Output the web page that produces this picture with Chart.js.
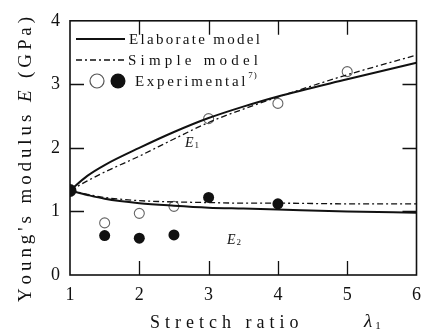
<!DOCTYPE html>
<html>
<head>
<meta charset="utf-8">
<script src="https://cdn.jsdelivr.net/npm/chart.js@4"></script>
<style>
  html, body { margin: 0; padding: 0; background: #fff; }
  #wrap { width: 430px; height: 336px; position: relative; }
</style>
</head>
<body>
<div id="wrap"><canvas id="chart"></canvas></div>
<script>
// ---- data ----
const stretch      = [1, 1.25, 1.5, 2, 2.5, 3, 3.5, 4, 5, 6];
const elaborateE1  = [1.33, 1.56, 1.73, 2.00, 2.25, 2.47, 2.65, 2.81, 3.08, 3.34];
const elaborateE2  = [1.33, 1.26, 1.20, 1.13, 1.09, 1.06, 1.045, 1.03, 1.00, 0.98];
const simpleE1     = [1.33, 1.48, 1.62, 1.87, 2.14, 2.40, 2.61, 2.80, 3.15, 3.46];
const simpleE2     = [1.33, 1.27, 1.22, 1.17, 1.15, 1.14, 1.13, 1.13, 1.12, 1.12];

const openX   = [1.5, 2, 2.5, 3, 4, 5];
const openY   = [0.82, 0.97, 1.08, 2.46, 2.70, 3.20];
const filledX = [1, 1.5, 2, 2.5, 3, 4];
const filledY = [1.33, 0.62, 0.58, 0.63, 1.22, 1.12];

const xTicks = [1, 2, 3, 4, 5, 6];
const yTicks = [0, 1, 2, 3, 4];

const SERIF = '"Liberation Serif", "DejaVu Serif", serif';
const INK = '#111';

const pts = (xs, ys) => xs.map((x, i) => ({ x: x, y: ys[i] }));

// draw text char by char with extra tracking, returns end x
function spaced(ctx, text, x, y, sp) {
  for (const ch of text) {
    ctx.fillText(ch, x, y);
    x += ctx.measureText(ch).width + sp;
  }
  return x;
}

const decorPlugin = {
  id: 'decor',
  afterDatasetsDraw(chart) {
    const ctx = chart.ctx;
    const a = chart.chartArea;
    const xs = chart.scales.x, ys = chart.scales.y;
    ctx.save();
    ctx.strokeStyle = INK;
    ctx.fillStyle = INK;

    // frame
    ctx.lineWidth = 1.6;
    ctx.strokeRect(a.left, a.top, a.right - a.left, a.bottom - a.top);

    // inward ticks on all four sides
    ctx.lineWidth = 1.3;
    ctx.beginPath();
    xTicks.slice(1, -1).forEach(v => {
      const px = Math.round(xs.getPixelForValue(v)) + 0.5;
      ctx.moveTo(px, a.bottom); ctx.lineTo(px, a.bottom - 14);
      ctx.moveTo(px, a.top); ctx.lineTo(px, a.top + 14);
    });
    yTicks.slice(1, -1).forEach(v => {
      const py = Math.round(ys.getPixelForValue(v)) + 0.5;
      ctx.moveTo(a.left, py); ctx.lineTo(a.left + 14, py);
      ctx.moveTo(a.right, py); ctx.lineTo(a.right - 14, py);
    });
    ctx.stroke();

    // legend
    const lx = a.left + 6;
    ctx.textBaseline = 'middle';
    ctx.lineWidth = 2;
    ctx.beginPath(); ctx.moveTo(lx, 39); ctx.lineTo(lx + 49, 39); ctx.stroke();
    ctx.lineWidth = 1.3;
    ctx.setLineDash([6, 3, 2, 3]);
    ctx.beginPath(); ctx.moveTo(lx, 60); ctx.lineTo(lx + 49, 60); ctx.stroke();
    ctx.setLineDash([]);

    ctx.font = '15px ' + SERIF;
    spaced(ctx, 'Elaborate model', 129, 40, 2.3);
    spaced(ctx, 'Simple model', 128, 61, 4.2);

    ctx.fillStyle = '#fff';
    ctx.strokeStyle = '#555';
    ctx.lineWidth = 1.2;
    ctx.beginPath(); ctx.arc(97, 81, 7, 0, Math.PI * 2); ctx.fill(); ctx.stroke();
    ctx.fillStyle = INK;
    ctx.beginPath(); ctx.arc(118, 81, 7.5, 0, Math.PI * 2); ctx.fill();
    ctx.font = '15px ' + SERIF;
    const ex = spaced(ctx, 'Experimental', 135, 82, 2.7);
    ctx.font = '9px ' + SERIF;
    spaced(ctx, '7)', ex, 76, 1);

    // curve labels
    ctx.font = 'italic 14px ' + SERIF;
    let e = spaced(ctx, 'E', 185, 143, 0);
    ctx.font = '9px ' + SERIF;
    ctx.fillText('1', e + 1, 146);
    ctx.font = 'italic 14px ' + SERIF;
    e = spaced(ctx, 'E', 227, 240, 0);
    ctx.font = '9px ' + SERIF;
    ctx.fillText('2', e + 1, 243);

    // x axis title
    ctx.font = '18px ' + SERIF;
    ctx.textBaseline = 'middle';
    spaced(ctx, 'Stretch ratio', 150, 323, 5);
    ctx.font = 'italic 19px ' + SERIF;
    const lam = spaced(ctx, 'λ', 364, 322, 0);
    ctx.font = '11px ' + SERIF;
    ctx.fillText('1', lam + 3, 326);

    // y axis title (rotated)
    ctx.translate(26, 302);
    ctx.rotate(-Math.PI / 2);
    ctx.font = '19px ' + SERIF;
    let p = spaced(ctx, "Young's modulus ", 0, 0, 3.9);
    ctx.font = 'italic 19px ' + SERIF;
    p = spaced(ctx, 'E', p, 0, 3.9);
    ctx.font = '19px ' + SERIF;
    spaced(ctx, ' (GPa)', p, 0, 3.9);

    ctx.restore();
  }
};

const lineStyle = {
  showLine: true,
  pointRadius: 0,
  borderColor: INK,
  backgroundColor: INK,
  cubicInterpolationMode: 'monotone',
  fill: false
};

new Chart(document.getElementById('chart'), {
  type: 'scatter',
  data: {
    datasets: [
      Object.assign({ label: 'Elaborate E1', data: pts(stretch, elaborateE1), borderWidth: 2 }, lineStyle),
      Object.assign({ label: 'Elaborate E2', data: pts(stretch, elaborateE2), borderWidth: 2 }, lineStyle),
      Object.assign({ label: 'Simple E1', data: pts(stretch, simpleE1), borderWidth: 1.3, borderDash: [6, 3, 2, 3] }, lineStyle),
      Object.assign({ label: 'Simple E2', data: pts(stretch, simpleE2), borderWidth: 1.3, borderDash: [6, 3, 2, 3] }, lineStyle),
      {
        label: 'Experimental (open)',
        data: pts(openX, openY),
        pointRadius: 5,
        pointBackgroundColor: '#fff',
        pointBorderColor: '#666',
        pointBorderWidth: 1.1
      },
      {
        label: 'Experimental (filled)',
        data: pts(filledX, filledY),
        pointRadius: c => c.dataIndex === 0 ? 6.5 : 5.5,
        pointBackgroundColor: INK,
        pointBorderColor: INK,
        pointBorderWidth: 0
      }
    ]
  },
  options: {
    responsive: true,
    maintainAspectRatio: false,
    animation: false,
    layout: { padding: { top: 15, right: 5, left: 0, bottom: 0 } },
    plugins: { legend: { display: false }, tooltip: { enabled: false } },
    scales: {
      x: {
        type: 'linear',
        min: 1, max: 6,
        afterFit: s => { s.height = 61; },
        afterBuildTicks: s => { s.ticks = xTicks.map(v => ({ value: v })); },
        grid: { display: false, drawTicks: false },
        border: { display: false },
        ticks: { color: INK, padding: 9, font: { family: SERIF, size: 18 } }
      },
      y: {
        min: 0, max: 4,
        afterFit: s => { s.width = 70; },
        afterBuildTicks: s => { s.ticks = yTicks.map(v => ({ value: v })); },
        grid: { display: false, drawTicks: false },
        border: { display: false },
        ticks: { color: INK, padding: 10, font: { family: SERIF, size: 18 } }
      }
    }
  },
  plugins: [decorPlugin]
});
</script>
</body>
</html>
